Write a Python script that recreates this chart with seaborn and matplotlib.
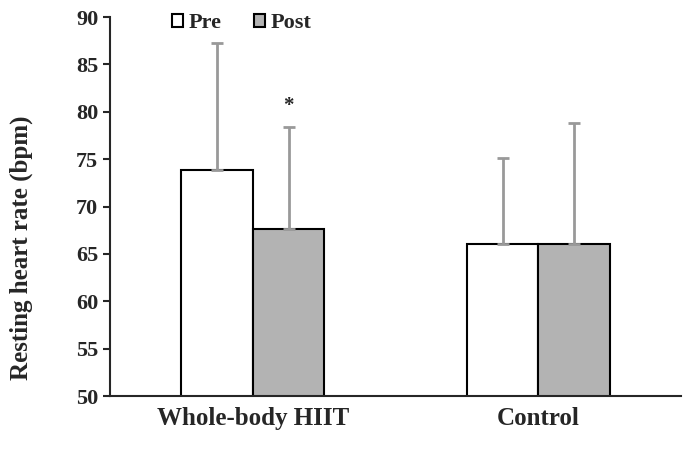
import matplotlib.pyplot as plt
import pandas as pd
import seaborn as sns

groups = ["Whole-body HIIT", "Control"]
times = ["Pre", "Post"]
pre_means = [73.9, 66.0]
post_means = [67.6, 66.0]
pre_sd = [13.4, 9.1]
post_sd = [10.8, 12.8]

df = pd.DataFrame({
    "group": groups * 2,
    "time": ["Pre"] * 2 + ["Post"] * 2,
    "hr": pre_means + post_means,
    "sd": pre_sd + post_sd,
})

sns.set_theme(style="ticks")
plt.rcParams["font.family"] = ["Liberation Serif", "DejaVu Serif"]
plt.rcParams["font.weight"] = "bold"

fig, ax = plt.subplots(figsize=(6.88, 4.5), dpi=100)
fig.subplots_adjust(left=0.16, right=0.99, bottom=0.12, top=0.962)

sns.barplot(data=df, x="group", y="hr", hue="time", hue_order=times,
            palette={"Pre": "white", "Post": "#b3b3b3"}, width=0.5,
            edgecolor="black", linewidth=1.5, errorbar=None, ax=ax)

# upward-only SD bars at each bar centre
for cont, t in zip(ax.containers, times):
    sub = df[df["time"] == t].set_index("group").loc[groups]
    xs = [p.get_x() + p.get_width() / 2 for p in cont.patches]
    ax.errorbar(xs, sub["hr"], yerr=[[0] * len(xs), sub["sd"]], fmt="none",
                ecolor="#999999", elinewidth=2, capsize=4, capthick=2, zorder=1)

post_hiit = ax.containers[1].patches[0]
ax.text(post_hiit.get_x() + post_hiit.get_width() / 2, 80.6, "*",
        ha="center", va="center", fontsize=15, fontweight="bold")

ax.set_ylim(50, 90)
ax.set_yticks(range(50, 91, 5))
ax.set_xlim(-0.5, 1.5)
ax.set_xlabel("")
ax.set_ylabel("Resting heart rate (bpm)", fontsize=18, fontweight="bold")
ax.yaxis.set_label_coords(-0.135, 0.39)
ax.tick_params(axis="y", labelsize=16, length=5, width=1.5)
ax.tick_params(axis="x", labelsize=18, length=0, pad=8)
for lbl in ax.get_xticklabels() + ax.get_yticklabels():
    lbl.set_fontweight("bold")
sns.despine(ax=ax)
ax.spines["left"].set_linewidth(1.5)
ax.spines["bottom"].set_linewidth(1.5)

ax.legend(loc="upper left", bbox_to_anchor=(0.074, 1.063), ncol=2, frameon=False,
          handlelength=0.5, handleheight=0.5, handletextpad=0.25, columnspacing=1.45,
          prop={"size": 16, "weight": "bold"})

fig.savefig("out.png", dpi=100)
